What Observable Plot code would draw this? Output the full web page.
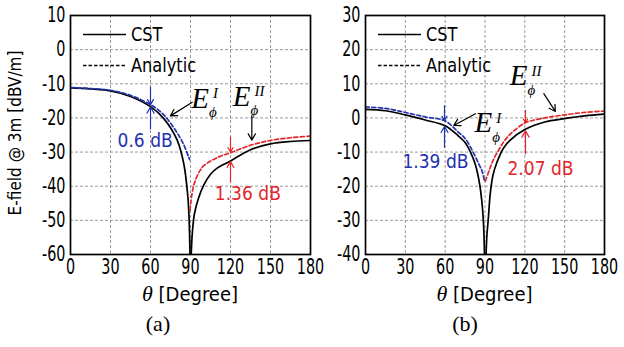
<!DOCTYPE html>
<html><head><meta charset="utf-8">
<script src="https://cdn.jsdelivr.net/npm/d3@7"></script>
<script src="https://cdn.jsdelivr.net/npm/@observablehq/plot@0.6"></script>
<style>
body{margin:0;background:#fff;}
#wrap{position:relative;width:624px;height:347px;overflow:hidden;background:#fff;font-family:"DejaVu Sans Condensed","DejaVu Sans",sans-serif;}
.svgbox{position:absolute;top:0;}
.ov{position:absolute;white-space:nowrap;}
.sans{font-family:"DejaVu Sans Condensed","DejaVu Sans",sans-serif;}
.E{font-family:"Liberation Serif","DejaVu Serif",serif;font-style:italic;font-size:29px;line-height:1;}
.ss{display:inline-block;vertical-align:middle;font-family:"Liberation Serif",serif;font-style:italic;font-size:15px;line-height:1;}
</style></head>
<body><div id="wrap"></div>
<script>
// ---------- data ----------
const xTicks = [0, 30, 60, 90, 120, 150, 180];
const yTicksA = [-60, -50, -40, -30, -20, -10, 0, 10];
const yTicksB = [-40, -30, -20, -10, 0, 10, 20, 30];

// Panel (a)
const aCstLeftT  = [0, 15, 30, 45, 60, 70, 80, 85, 88, 89, 89.6];
const aCstLeftV  = [-11.2, -11.5, -12.1, -13.7, -16.7, -20.2, -26.5, -33.5, -43, -50, -60];
const aCstRightT = [90.5, 91.5, 93, 96, 100, 105, 110, 120, 135, 150, 165, 180];
const aCstRightV = [-60, -53, -48, -43.5, -39.6, -36.5, -34.7, -32.6, -29.3, -27.6, -26.9, -26.6];
const aAnaLeftT  = [0, 15, 30, 45, 60, 70, 80, 85, 89.3];
const aAnaLeftV  = [-11.1, -11.4, -11.9, -13.4, -16.1, -19.1, -24.4, -27.9, -32.2];
const aAnaRightT = [89.6, 91, 93, 97, 100, 110, 120, 135, 150, 165, 180];
const aAnaRightV = [-47.1, -42.5, -39, -35.5, -34, -31.6, -30.2, -28.0, -26.6, -25.8, -25.3];

// Panel (b)
const bCstLeftT  = [0, 15, 30, 45, 60, 70, 75, 80, 83, 86, 88, 89, 89.6];
const bCstLeftV  = [2.5, 2.1, 0.9, -0.6, -2.3, -5.3, -7.2, -10.8, -14, -19.5, -26, -32, -40];
const bCstRightT = [90.8, 91.5, 92.4, 94, 96, 99, 104, 109, 120, 135, 150, 165, 180];
const bCstRightV = [-40, -34, -30, -22, -16.8, -13.0, -8.8, -6.5, -3.4, -1.2, -0.2, 0.6, 1.1];
const bAnaLeftT  = [0, 15, 30, 45, 60, 70, 75, 80, 85, 88, 89.6];
const bAnaLeftV  = [3.2, 2.8, 1.6, 0.3, -0.9, -4.2, -6.0, -9.2, -13.2, -15.8, -18.5];
const bAnaRightT = [90.3, 93.5, 96, 100, 105, 110, 120, 135, 150, 165, 180];
const bAnaRightV = [-18.5, -15, -12.5, -9.6, -6.5, -4.4, -1.5, 0.0, 0.9, 1.6, 2.0];

// annotations: arrows [x1, y1, x2, y2, colour-key]
const aArrows = [
  [60, -11, 60, -16.1, "blue"], [60, -23.2, 60, -16.8, "blue"],
  [120, -25.6, 120, -30.0, "red"], [120, -38.8, 120, -32.8, "red"],
  [91.3, -15.4, 75, -19.4, "black"], [136, -19.3, 136, -26.5, "black"]
];
const bArrows = [
  [59.5, 3.6, 59.5, -0.8, "blue"], [59.5, -8.6, 59.5, -2.5, "blue"],
  [120.5, 2.2, 120.5, -1.4, "red"], [120.5, -10.5, 120.5, -3.8, "red"],
  [82.8, 1.2, 66.5, -2.2, "black"], [134.3, 7.1, 143, 1.9, "black"]
];
const aNotes = [["0.6 dB", 56, -26.6, "blue"], ["1.36 dB", 133, -42.2, "red"]];
const bNotes = [["1.39 dB", 52.7, -13, "blue"], ["2.07 dB", 131.8, -14.9, "red"]];
// E-field labels: [superscript, theta, value]
const aELabels = [["I", 101, -15.4], ["II", 134, -14.8]];
const bELabels = [["I", 92.6, -2.6], ["II", 121, 11.2]];

const colours = {blue: "#2233b0", red: "#e3262b", black: "#000"};
const legendNames = ["CST", "Analytic"];
const xLabel = "[Degree]";
const yLabel = "E-field @ 3m [dBV/m]";
const panelNames = ["(a)", "(b)"];

// ---------- drawing ----------
const toRows = (T, V) => T.map((t, i) => ({t, v: V[i]}));
const wrap = document.getElementById("wrap");

function squeeze(svg, k) {
  svg.querySelectorAll('g[aria-label*="axis"] text').forEach(t => {
    const tr = t.getAttribute("transform") || "";
    t.setAttribute("transform", (tr + ` scale(${k},1)`).trim());
  });
}

function panel(cfg) {
  const arrows = cfg.arrows.map(([x1, y1, x2, y2, c]) => ({x1, y1, x2, y2, c: colours[c]}));
  const notes = cfg.notes.map(([s, t, v, c]) => ({s, t, v, c: colours[c]}));
  const lineOpts = (stroke, dash) => ({x: "t", y: "v", stroke, strokeWidth: 1.7, strokeDasharray: dash, curve: "catmull-rom", clip: true});
  const plot = Plot.plot({
    width: cfg.width, height: 300,
    marginLeft: cfg.ml, marginRight: 20, marginTop: 15, marginBottom: 46,
    style: {background: "transparent", overflow: "visible", fontFamily: '"DejaVu Sans Condensed","DejaVu Sans",sans-serif', fontSize: "21px", color: "#000"},
    x: {domain: [0, 180], ticks: xTicks, tickSize: 0, tickPadding: 5, tickFormat: d => String(d), label: null},
    y: {domain: cfg.yDomain, ticks: cfg.yTicks, tickSize: 0, tickPadding: 5, tickFormat: d => String(d), label: null},
    marks: [
      Plot.ruleX(xTicks.slice(1, -1), {stroke: "#9a9a9a", strokeDasharray: "3,2", strokeWidth: 1}),
      Plot.ruleY(cfg.yTicks.slice(1, -1), {stroke: "#9a9a9a", strokeDasharray: "3,2", strokeWidth: 1}),
      Plot.line(toRows(...cfg.cstL), lineOpts("#000", null)),
      Plot.line(toRows(...cfg.cstR), lineOpts("#000", null)),
      Plot.line(toRows(...cfg.anaL), lineOpts(colours.blue, "4,2.5")),
      Plot.line(toRows(...cfg.anaR), lineOpts(colours.red, "4,2.5")),
      Plot.arrow(arrows, {x1: "x1", y1: "y1", x2: "x2", y2: "y2", stroke: "c", strokeWidth: 1.2, headLength: 9, bend: 0}),
      Plot.text(notes, {x: "t", y: "v", text: "s", fill: "c", fontSize: 19}),
      Plot.frame({stroke: "#000", strokeWidth: 1.7})
    ]
  });
  squeeze(plot, 0.76);
  const box = document.createElement("div");
  box.className = "svgbox";
  box.style.left = cfg.left + "px";
  box.appendChild(plot);
  wrap.appendChild(box);

  const sx = plot.scale("x"), sy = plot.scale("y");
  const X = t => cfg.left + sx.apply(t), Y = v => sy.apply(v);
  const fl = X(0), ft = Y(cfg.yDomain[1]), fr = X(180);

  // E labels
  cfg.eLabels.forEach(([sup, t, v]) => {
    const d = document.createElement("div");
    d.className = "ov";
    d.innerHTML = `<span class="E">E</span><span class="ss"><span style="display:block;padding-left:4px">${sup}</span><span style="display:block;margin-top:4px">&#981;</span></span>`;
    d.style.left = X(t) + "px"; d.style.top = Y(v) + "px";
    d.style.transform = "translate(-50%,-50%)";
    wrap.appendChild(d);
  });

  // legend
  legendNames.forEach((name, i) => {
    const y = ft + 19 + i * 31;
    const d = document.createElement("div");
    d.className = "ov sans";
    d.style.left = (fl + 13) + "px"; d.style.top = (y - 12) + "px";
    d.style.fontSize = "20px"; d.style.lineHeight = "24px";
    d.innerHTML = `<svg width="43" height="24" style="vertical-align:top"><line x1="0" x2="43" y1="12.5" y2="12.5" stroke="#000" stroke-width="1.5" ${i ? 'stroke-dasharray="3.5,2"' : ''}/></svg><span style="margin-left:5px;display:inline-block;transform:scaleX(0.9);transform-origin:left center">${name}</span>`;
    wrap.appendChild(d);
  });

  // x-axis label
  const xl = document.createElement("div");
  xl.className = "ov";
  xl.innerHTML = `<span style="font-family:'Liberation Serif',serif;font-style:italic;font-size:22px">&#952;</span><span class="sans" style="font-size:20px"> ${xLabel}</span>`;
  xl.style.left = (fl + fr) / 2 + "px"; xl.style.top = "294px";
  xl.style.transform = "translate(-50%,-50%)";
  wrap.appendChild(xl);

  // panel caption
  const pc = document.createElement("div");
  pc.className = "ov";
  pc.style.fontFamily = "'Liberation Serif',serif"; pc.style.fontSize = "22px";
  pc.textContent = cfg.name;
  pc.style.left = (cfg.capX) + "px"; pc.style.top = "324px";
  pc.style.transform = "translate(-50%,-50%)";
  wrap.appendChild(pc);
}

panel({left: 0, width: 330, ml: 70, yDomain: [-60, 10], yTicks: yTicksA,
  cstL: [aCstLeftT, aCstLeftV], cstR: [aCstRightT, aCstRightV],
  anaL: [aAnaLeftT, aAnaLeftV], anaR: [aAnaRightT, aAnaRightV],
  arrows: aArrows, notes: aNotes, eLabels: aELabels, name: panelNames[0], capX: 158});
panel({left: 300, width: 324, ml: 65, yDomain: [-40, 30], yTicks: yTicksB,
  cstL: [bCstLeftT, bCstLeftV], cstR: [bCstRightT, bCstRightV],
  anaL: [bAnaLeftT, bAnaLeftV], anaR: [bAnaRightT, bAnaRightV],
  arrows: bArrows, notes: bNotes, eLabels: bELabels, name: panelNames[1], capX: 465});

// y-axis label
const yl = document.createElement("div");
yl.className = "ov sans";
yl.style.fontSize = "17px";
yl.textContent = yLabel;
yl.style.left = "15px"; yl.style.top = "133px";
yl.style.transform = "translate(-50%,-50%) rotate(-90deg)";
wrap.appendChild(yl);
</script></body></html>
